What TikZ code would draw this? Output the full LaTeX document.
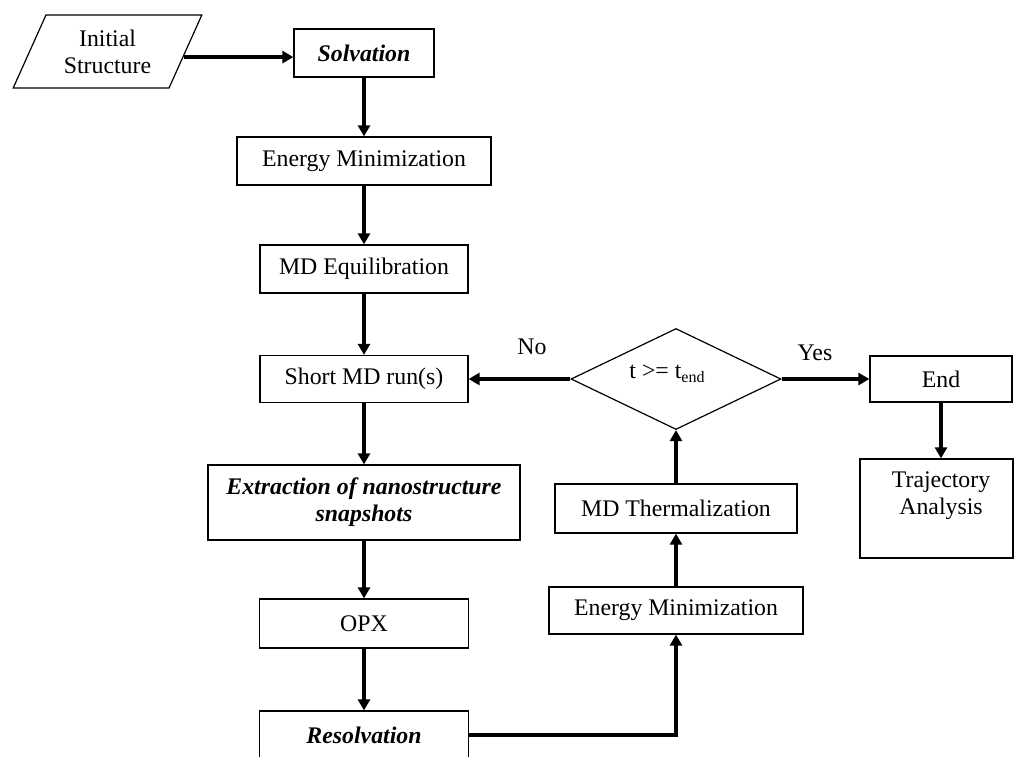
\documentclass[tikz,border=0pt]{standalone}
\usepackage{fontspec}
\setmainfont{Liberation Serif}
\usetikzlibrary{arrows.meta,shapes.geometric,calc}
\begin{document}
\begin{tikzpicture}[x=1pt,y=-1pt,
  every node/.style={font=\fontsize{23.8}{27}\selectfont, inner sep=0pt},
  box/.style={draw, line width=1.3pt, rectangle, align=center},
  bi/.style={font=\fontsize{23.8}{27}\selectfont\bfseries\itshape},
  arr/.style={line width=3.8pt, -{Triangle[length=11pt,width=12pt]}},
  lbl/.style={font=\fontsize{23.8}{27}\selectfont}]
\useasboundingbox (0,0) rectangle (1015,756);
% left column
\node[draw, line width=1.2pt, trapezium, trapezium left angle=62, trapezium right angle=118,
      trapezium stretches=true, minimum width=189pt, minimum height=73pt, align=center]
      (init) at (107.5,51.5) {Initial\\Structure};
\node[box, bi, minimum width=140pt, minimum height=48pt] (solv) at (364,53) {Solvation};
\node[box, minimum width=254pt, minimum height=48pt] (em1) at (364,161) {Energy Minimization};
\node[box, minimum width=208pt, minimum height=48pt] (mdeq) at (364,269) {MD Equilibration};
\node[box, minimum width=208pt, minimum height=47pt] (short) at (364,379) {Short MD run(s)};
\node[box, bi, minimum width=312pt, minimum height=75pt] (extr) at (364,502.5) {Extraction of nanostructure\\snapshots};
\node[box, minimum width=209pt, minimum height=49pt] (opx) at (364,623.5) {OPX};
\node[box, bi, minimum width=209pt, minimum height=48pt] (resolv) at (364,735) {Resolvation};
% right part
\node[draw, line width=1.2pt, diamond, minimum width=210pt, minimum height=101pt] (dec) at (676,379) {};
\node (dect) at (667,374) {t >= t\raisebox{-0.35ex}{\fontsize{16}{18}\selectfont end}};
\node[box, minimum width=254pt, minimum height=47pt] (emr) at (676,610.5) {Energy Minimization};
\node[box, minimum width=242pt, minimum height=49pt] (mdth) at (676,508.5) {MD Thermalization};
\node[box, minimum width=142pt, minimum height=46pt] (end) at (941,379) {End};
\node[box, minimum width=153pt, minimum height=99pt] (traj) at (936.5,508.5) {};
\node[align=center] (trajt) at (941,496) {Trajectory\\Analysis};
\node[lbl] (no) at (532,347) {No};
\node[lbl] (yes) at (815,353) {Yes};
% connectors
\coordinate (ie) at ($(init.bottom right corner)!0.425!(init.top right corner)$);
\draw[arr] (ie) -- (ie -| solv.west);
\draw[arr] (solv.south) -- (em1.north);
\draw[arr] (em1.south) -- (mdeq.north);
\draw[arr] (mdeq.south) -- (short.north);
\draw[arr] (short.south) -- (extr.north);
\draw[arr] (extr.south) -- (opx.north);
\draw[arr] (opx.south) -- (resolv.north);
\draw[arr] (resolv.east) -| (emr.south);
\draw[arr] (emr.north) -- (mdth.south);
\draw[arr] (mdth.north) -- (dec.south);
\draw[arr] (dec.west) -- (short.east);
\draw[arr] (dec.east) -- (end.west);
\draw[arr] (end.south) -- (end.south |- traj.north);
\end{tikzpicture}
\end{document}
